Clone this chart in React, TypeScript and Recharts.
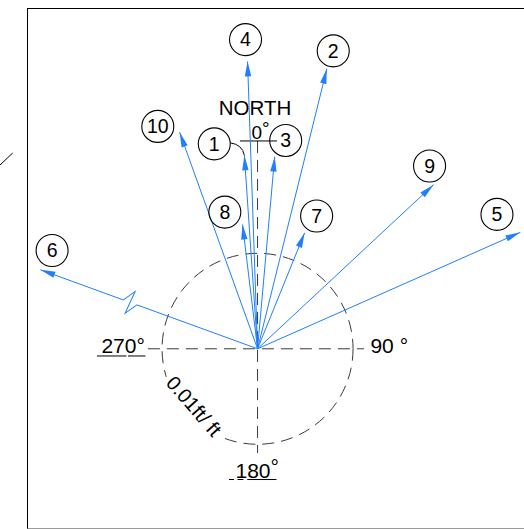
import React from 'react';
import { ComposedChart, XAxis, YAxis, Scatter, ReferenceLine, ReferenceDot } from 'recharts';

// ---------- data ----------
const VECTOR_IDS = ['1', '2', '3', '4', '5', '6', '7', '8', '9', '10'];
// azimuth of each vector, degrees clockwise from north
const BEARINGS_DEG = [356.1, 13.9, 5.1, 358.0, 66.1, 290.0, 22.1, 353.1, 47.0, 340.2];
// drawn magnitude, ft/ft
const MAGNITUDES = [0.0203, 0.0302, 0.0202, 0.0301, 0.0301, 0.0242, 0.0131, 0.0131, 0.0252, 0.0241];
// vector drawn with a break symbol (value off scale)
const BROKEN = [false, false, false, false, false, true, false, false, false, false];
const BREAK_AT = 0.0142; // ft/ft along the broken vector
const SCALE_RADIUS = 0.01; // ft/ft reference circle
const SCALE_LABEL = '0.01ft/ ft';
const COMPASS_LABELS = ['NORTH', '0°', '90 °', '180°', '270°'];

// ---------- layout / style ----------
const W = 524;
const H = 529;
const X_DOMAIN: [number, number] = [-0.02697, 0.0279];
const Y_DOMAIN: [number, number] = [-0.01887, 0.03652];
const PX = W / (X_DOMAIN[1] - X_DOMAIN[0]);
const BLUE = '#1f7fff';
const DASH = '#3a3a3a';
const DASHES = '12 7';
const FONT = '"Liberation Sans", Arial, Helvetica, sans-serif';
// label circle offset from the arrow tip, px
const LABEL_OFFSETS: [number, number][] = [
  [-30.1, -11.5], [6.4, -17.9], [11, -16.2], [-2, -21.9], [-23.4, -17.9],
  [11.7, -19.2], [12, -16.9], [-17.7, -12.5], [-4, -18.6], [-21.8, -5.8],
];
const LEADER_IDS = ['1'];
const HALF_GAP = 7.15 / PX;

const rad = (d: number) => (d * Math.PI) / 180;
const along = (i: number, dist: number) => ({
  x: dist * Math.sin(rad(BEARINGS_DEG[i])),
  y: dist * Math.cos(rad(BEARINGS_DEG[i])),
});

const ArrowShape = (props: any) => {
  const { cx, cy, payload } = props;
  if (!payload || !payload.head || cx == null) return <g />;
  return (
    <path
      d="M0,0 L3.2,15 L-3.2,15 Z"
      transform={`translate(${cx},${cy}) rotate(${payload.bearing})`}
      fill={BLUE}
      stroke="none"
    />
  );
};

const BreakShape = (props: any) => {
  const { cx, cy, payload } = props;
  if (cx == null) return <g />;
  return (
    <path
      d="M0,7.15 L-12,-1 L12,1 L0,-7.15"
      transform={`translate(${cx},${cy}) rotate(${payload.bearing})`}
      fill="none"
      stroke={BLUE}
      strokeWidth={1}
    />
  );
};

const LabelShape = (props: any) => {
  const { cx, cy, payload } = props;
  if (cx == null) return <g />;
  const [ox, oy] = LABEL_OFFSETS[payload.index];
  const lx = cx + ox;
  const ly = cy + oy;
  return (
    <g>
      {payload.leader && (
        <path d={`M${lx + 16},${ly - 1} Q${lx + 28},${ly + 0.6} ${cx},${cy}`} fill="none" stroke="#000" strokeWidth={1} />
      )}
      <circle cx={lx} cy={ly} r={16} fill="none" stroke="#000" strokeWidth={1.1} />
      <text x={lx} y={ly + 6.9} textAnchor="middle" fontSize={19.5} fontFamily={FONT} fill="#000">
        {payload.id}
      </text>
    </g>
  );
};

const textShape = (label: string, size: number, anchor: string, rotate = 0, degRaise = 0, mask = 0) => (props: any) => {
  const { cx, cy } = props;
  if (cx == null) return <g />;
  const hasDeg = label.endsWith('°');
  const main = hasDeg ? label.slice(0, -1) : label;
  return (
    <g transform={rotate ? `rotate(${rotate},${cx},${cy})` : undefined}>
      {mask > 0 && <rect x={cx - mask / 2} y={cy - size * 0.8} width={mask} height={size * 1.0} fill="#fff" />}
      <text x={cx} y={cy} textAnchor={anchor as any} fontSize={size} fontFamily={FONT} fill="#000">
        {main}
        {hasDeg && <tspan dy={-degRaise}>°</tspan>}
      </text>
    </g>
  );
};

export default function App() {
  const series: React.ReactNode[] = [];
  VECTOR_IDS.forEach((id, i) => {
    const tip = along(i, MAGNITUDES[i]);
    const b = BEARINGS_DEG[i];
    if (BROKEN[i]) {
      const p1 = along(i, BREAK_AT - HALF_GAP);
      const p2 = along(i, BREAK_AT + HALF_GAP);
      const m = along(i, BREAK_AT);
      series.push(
        <Scatter key={`v${id}a`} data={[{ x: 0, y: 0 }, { ...p1 }]} line={{ stroke: BLUE, strokeWidth: 1 }} lineType="joint" shape={ArrowShape} fill={BLUE} isAnimationActive={false} />,
      );
      series.push(
        <Scatter key={`v${id}b`} data={[{ ...p2 }, { ...tip, head: true, bearing: b }]} line={{ stroke: BLUE, strokeWidth: 1 }} lineType="joint" shape={ArrowShape} fill={BLUE} isAnimationActive={false} />,
      );
      series.push(
        <Scatter key={`v${id}z`} data={[{ ...m, bearing: b }]} shape={BreakShape} fill={BLUE} isAnimationActive={false} />,
      );
    } else {
      series.push(
        <Scatter key={`v${id}`} data={[{ x: 0, y: 0 }, { ...tip, head: true, bearing: b }]} line={{ stroke: BLUE, strokeWidth: 1 }} lineType="joint" shape={ArrowShape} fill={BLUE} isAnimationActive={false} />,
      );
    }
  });

  const labelData = VECTOR_IDS.map((id, i) => ({
    ...along(i, MAGNITUDES[i]),
    id,
    index: i,
    leader: LEADER_IDS.includes(id),
  }));

  return (
    <div style={{ position: 'fixed', left: 0, top: 0, width: W, height: H, overflow: 'hidden', background: '#fff' }}>
      <div
        style={{
          position: 'absolute', left: 27, top: 8, width: W - 27, height: 521, boxSizing: 'border-box',
          borderLeft: '1px solid #000', borderTop: '1px solid #000', borderBottom: '1px solid #9a9a9a',
        }}
      />
      <svg style={{ position: 'absolute', left: 0, top: 150 }} width={16} height={18}>
        <line x1={0} y1={15} x2={12.7} y2={3} stroke="#000" strokeWidth={1} />
      </svg>
      <div style={{ position: 'absolute', left: 0, top: 0 }}>
        <ComposedChart width={W} height={H} margin={{ top: 0, right: 0, bottom: 0, left: 0 }}>
          <XAxis type="number" dataKey="x" domain={X_DOMAIN} hide allowDataOverflow />
          <YAxis type="number" dataKey="y" domain={Y_DOMAIN} hide allowDataOverflow />
          {/* compass dashed axes */}
          <ReferenceLine segment={[{ x: -0.01148, y: 0 }, { x: 0.01114, y: 0 }]} stroke={DASH} strokeDasharray={DASHES} strokeWidth={1} />
          <ReferenceLine segment={[{ x: 0, y: 0.02176 }, { x: 0, y: -0.01091 }]} stroke={DASH} strokeDasharray={DASHES} strokeWidth={1} />
          {/* scale circle */}
          <ReferenceDot x={0} y={0} r={SCALE_RADIUS * PX} fill="none" stroke={DASH} strokeDasharray={DASHES} strokeWidth={1} />
          {/* underlines */}
          <ReferenceLine segment={[{ x: -0.00184, y: 0.02176 }, { x: 0.00203, y: 0.02176 }]} stroke="#000" strokeWidth={1} />
          <ReferenceLine segment={[{ x: -0.01682, y: -0.000754 }, { x: -0.01373, y: -0.000754 }]} stroke="#000" strokeWidth={1} />
          <ReferenceLine segment={[{ x: -0.01357, y: -0.000754 }, { x: -0.01174, y: -0.000754 }]} stroke="#000" strokeWidth={1} />
          <ReferenceLine segment={[{ x: -0.00299, y: -0.01369 }, { x: -0.00247, y: -0.01369 }]} stroke="#000" strokeWidth={1} />
          <ReferenceLine segment={[{ x: -0.0021, y: -0.01369 }, { x: -0.00148, y: -0.01369 }]} stroke="#000" strokeWidth={1} />
          <ReferenceLine segment={[{ x: -0.00108, y: -0.01369 }, { x: 0.00198, y: -0.01369 }]} stroke="#000" strokeWidth={1} />
          {/* compass text */}
          <ReferenceDot x={-0.00027} y={0.02453} r={1} shape={textShape(COMPASS_LABELS[0], 20.5, 'middle')} />
          <ReferenceDot x={-0.00064} y={0.022} r={1} shape={textShape(COMPASS_LABELS[1], 19, 'start', 0, 4)} />
          <ReferenceDot x={0.01182} y={-0.00049} r={1} shape={textShape(COMPASS_LABELS[2], 21, 'start')} />
          <ReferenceDot x={-0.00231} y={-0.01353} r={1} shape={textShape(COMPASS_LABELS[3], 21, 'start', 0, 4)} />
          <ReferenceDot x={-0.01635} y={-0.00044} r={1} shape={textShape(COMPASS_LABELS[4], 21, 'start')} />
          <ReferenceDot x={-0.00722} y={-0.00648} r={1} shape={textShape(SCALE_LABEL, 20, 'middle', 49, 0, 80)} />
          {series}
          <Scatter data={labelData} shape={LabelShape} fill="#000" isAnimationActive={false} />
        </ComposedChart>
      </div>
    </div>
  );
}
